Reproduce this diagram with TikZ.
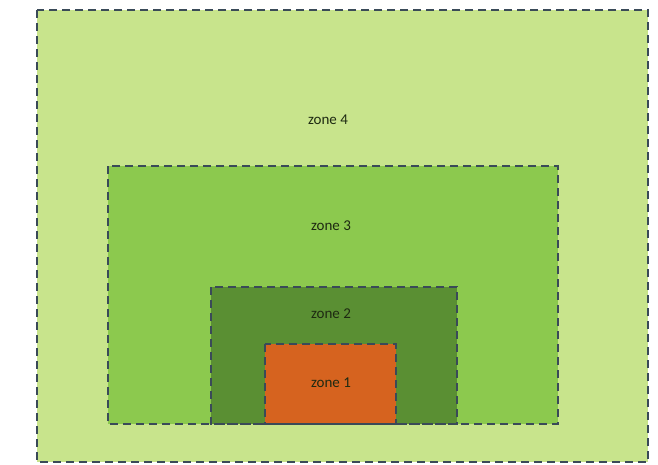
\documentclass[tikz,border=0pt]{standalone}
\usepackage{fontspec}
\setmainfont{Carlito}
\definecolor{zfour}{HTML}{C8E48C}
\definecolor{zthree}{HTML}{8CC94E}
\definecolor{ztwo}{HTML}{5A8F33}
\definecolor{zone}{HTML}{D6631F}
\definecolor{zedge}{HTML}{3A4A58}
\definecolor{ztext}{HTML}{1E2A12}
\tikzset{
  zonebox/.style={draw=zedge, line width=2.2pt, dash pattern=on 8pt off 5pt},
  zlabel/.style={font=\fontsize{15}{17}\selectfont, text=ztext, inner sep=0pt}
}
\begin{document}
\begin{tikzpicture}[x=1pt,y=-1pt]
\useasboundingbox[fill=white] (0,0) rectangle (658,464);
\fill[zfour] (37,10) rectangle (648,462);
\fill[zthree] (108,166) rectangle (558,424);
\fill[ztwo] (211,287) rectangle (457,424);
\fill[zone] (265,344) rectangle (396,424);
\draw[zonebox] (37,10) rectangle (648,462);
\draw[zonebox] (108,166) rectangle (558,424);
\draw[zonebox] (211,287) rectangle (457,424);
\draw[zonebox] (265,344) rectangle (396,424);
\node[zlabel] (l4) at (328,120) {zone 4};
\node[zlabel] (l3) at (331,226) {zone 3};
\node[zlabel] (l2) at (331,314) {zone 2};
\node[zlabel] (l1) at (331,383) {zone 1};
\end{tikzpicture}
\end{document}
